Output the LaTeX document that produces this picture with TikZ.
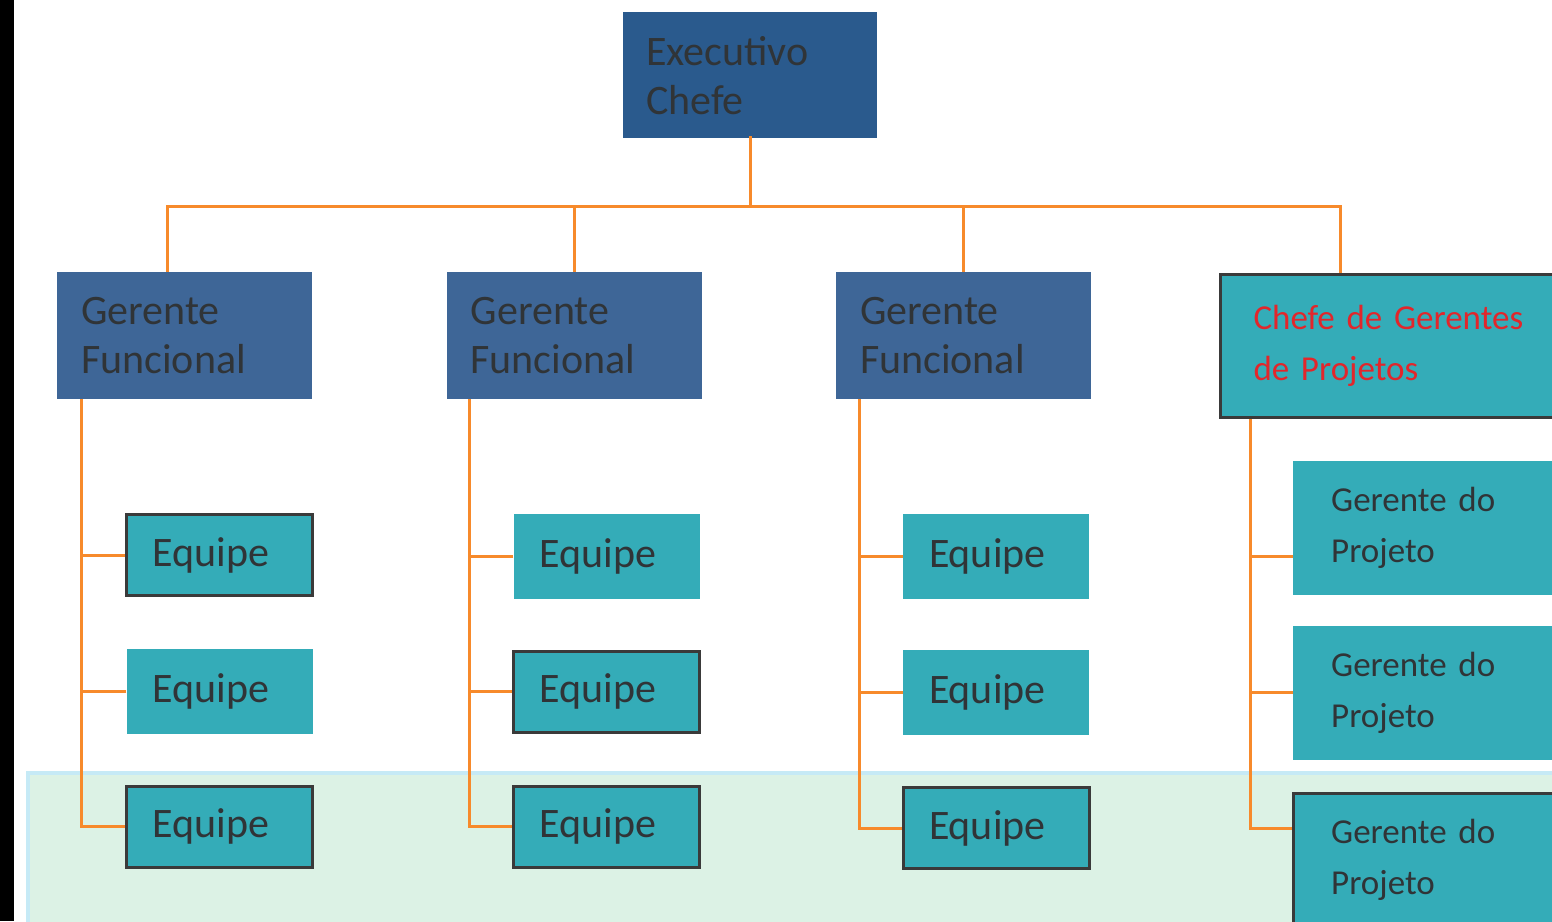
\documentclass[tikz,border=0pt]{standalone}
\usepackage{fontspec}
\setmainfont{Carlito}
\usetikzlibrary{positioning}
\definecolor{chiefblue}{HTML}{2A5A8D}
\definecolor{mgrblue}{HTML}{3E6697}
\definecolor{teamteal}{HTML}{34ACB8}
\definecolor{linkorange}{HTML}{F78A2B}
\definecolor{txtgrey}{HTML}{303437}
\definecolor{edgegrey}{HTML}{3A3A3A}
\definecolor{bandgreen}{HTML}{DCF2E5}
\definecolor{bandblue}{HTML}{C6EAF6}
\definecolor{pmred}{HTML}{E2262B}
\tikzset{
    big_text/.style={font=\fontsize{42}{49}\selectfont, text=txtgrey},
    small_text/.style={font=\fontsize{35}{51}\selectfont, text=txtgrey},
    exec_node/.style={rectangle, fill=chiefblue, big_text, align=left, text width=208pt, inner xsep=23pt, minimum width=254pt, minimum height=126pt, anchor=north west},
    manager_node/.style={rectangle, fill=mgrblue, big_text, align=left, text width=207pt, inner xsep=24pt, minimum width=255pt, minimum height=127pt},
    pm_head_node/.style={rectangle, fill=teamteal, draw=edgegrey, line width=3pt, small_text, text=pmred, align=left, text width=300pt, inner xsep=33pt, minimum height=143pt},
    team_node/.style={rectangle, fill=teamteal, big_text, align=left, text width=134pt, inner xsep=26pt, minimum height=85pt},
    team_edge/.style={team_node, draw=edgegrey, line width=3pt, minimum height=81pt},
    pm_node/.style={rectangle, fill=teamteal, small_text, align=left, text width=260pt, inner xsep=38pt, minimum height=134pt},
    pm_edge/.style={pm_node, draw=edgegrey, line width=3pt},
    link/.style={draw=linkorange, line width=3pt},
    band/.style={fill=bandgreen, draw=bandblue, line width=4pt},
}

\begin{document}
\begin{tikzpicture}[x=1pt, y=-1pt, node distance=51pt]
            \clip (0,0) rectangle (1552,921);
            \fill [white] (0,0) rectangle (1552,921);
            \fill [black] (0,0) rectangle (14,921);
            \draw [band] (28,773) rectangle (1600,960);

            %%%%%%%%%%%%%%%%%
            % EXECUTIVO     %
            %%%%%%%%%%%%%%%%%
            \node (exec_head) [exec_node] at (623,12)
                    {Executivo \\ Chefe};

            %%%%%%%%%%%%%%%%%
            % MANAGERS      %
            %%%%%%%%%%%%%%%%%
            \node (manager_1) [manager_node, anchor=north west] at (57,272)
                    {Gerente \\ Funcional};
            \node (manager_2) [manager_node, right=134pt of manager_1]
                    {Gerente \\ Funcional};
            \node (manager_3) [manager_node, right=134pt of manager_2]
                    {Gerente \\ Funcional};
            \node (pm_head) [pm_head_node, anchor=north west] at (1219,273)
                    {Chefe de Gerentes \\ de Projetos};

            \coordinate (bus) at ([yshift=-68pt]exec_head.south);
            \draw [link] ([yshift=2pt]exec_head.south) -- (bus);
            \draw [link] (bus) -| ([xshift=-17pt]manager_1.north);
            \draw [link] (bus) -| (manager_2.north);
            \draw [link] (bus) -| (manager_3.north);
            \draw [link] (bus) -| ([xshift=121pt]pm_head.north west);

            %%%%%%%%%%%%%%%%%
            % COLUMN 1      %
            %%%%%%%%%%%%%%%%%
            \node (team_1_1) [team_edge, below right=114pt and 68pt of manager_1.south west]
                    {Equipe};
            \node (team_1_2) [team_node, below=of team_1_1]
                    {Equipe};
            \node (team_1_3) [team_edge, below=of team_1_2]
                    {Equipe};

            \coordinate (stem_1) at ([xshift=24pt]manager_1.south west);
            \draw [link] (stem_1) |- (team_1_3.west);
            \draw [link] (team_1_1.west) -- (team_1_1.west -| stem_1);
            \draw [link] (team_1_2.west) -- (team_1_2.west -| stem_1);

            %%%%%%%%%%%%%%%%%
            % COLUMN 2      %
            %%%%%%%%%%%%%%%%%
            \node (team_2_1) [team_node, below right=114pt and 67pt of manager_2.south west]
                    {Equipe};
            \node (team_2_2) [team_edge, below=of team_2_1]
                    {Equipe};
            \node (team_2_3) [team_edge, below=of team_2_2]
                    {Equipe};

            \coordinate (stem_2) at ([xshift=23pt]manager_2.south west);
            \draw [link] (stem_2) |- (team_2_3.west);
            \draw [link] (team_2_1.west) -- (team_2_1.west -| stem_2);
            \draw [link] (team_2_2.west) -- (team_2_2.west -| stem_2);

            %%%%%%%%%%%%%%%%%
            % COLUMN 3      %
            %%%%%%%%%%%%%%%%%
            \node (team_3_1) [team_node, below right=114pt and 67pt of manager_3.south west]
                    {Equipe};
            \node (team_3_2) [team_node, below=of team_3_1]
                    {Equipe};
            \node (team_3_3) [team_edge, below=of team_3_2]
                    {Equipe};

            \coordinate (stem_3) at ([xshift=24pt]manager_3.south west);
            \draw [link] (stem_3) |- (team_3_3.west);
            \draw [link] (team_3_1.west) -- (team_3_1.west -| stem_3);
            \draw [link] (team_3_2.west) -- (team_3_2.west -| stem_3);

            %%%%%%%%%%%%%%%%%
            % PROJECTS      %
            %%%%%%%%%%%%%%%%%
            \node (pm_1) [pm_node, below right=42pt and 74pt of pm_head.south west]
                    {Gerente do \\ Projeto};
            \node (pm_2) [pm_node, below=30pt of pm_1]
                    {Gerente do \\ Projeto};
            \node (pm_3) [pm_edge, below=32pt of pm_2]
                    {Gerente do \\ Projeto};

            \coordinate (stem_4) at ([xshift=31pt]pm_head.south west);
            \draw [link] (stem_4) |- (pm_3.west |- team_3_3.west);
            \draw [link] (pm_1.west |- team_3_1.west) -- (stem_4 |- team_3_1.west);
            \draw [link] (pm_2.west |- team_3_2.west) -- (stem_4 |- team_3_2.west);
      \end{tikzpicture}
\end{document}
